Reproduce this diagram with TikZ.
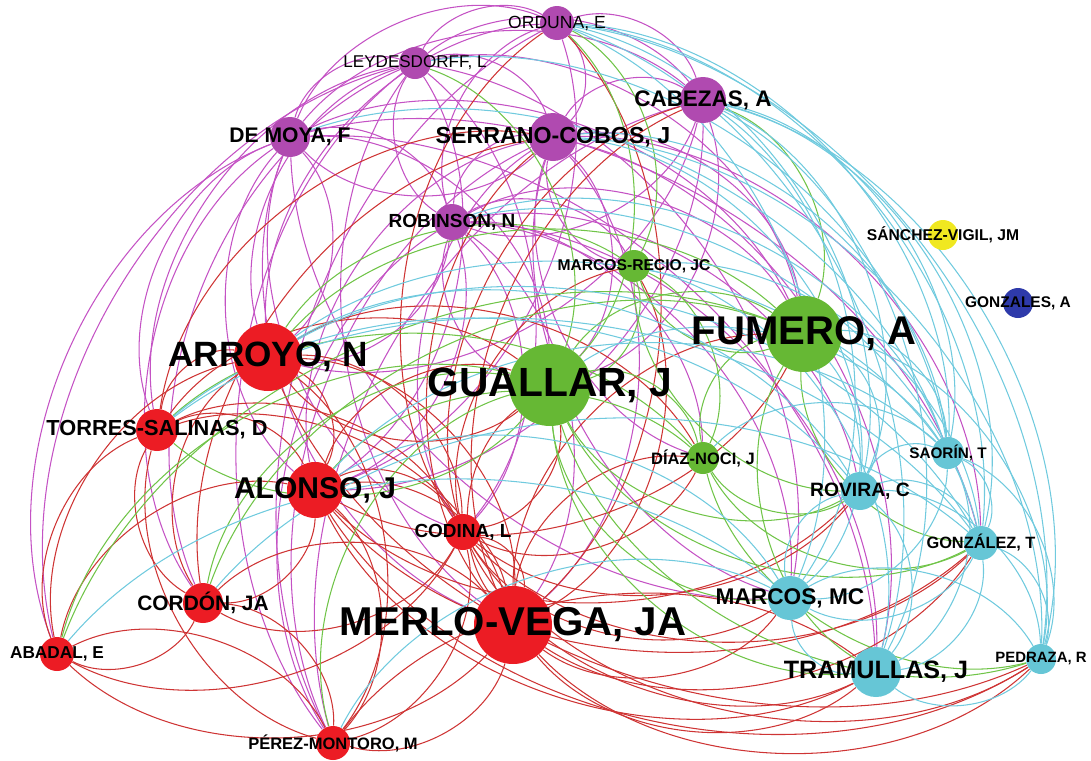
\documentclass[tikz,border=0pt]{standalone}
\usepackage{fontspec}
\setmainfont{Liberation Sans}
\usetikzlibrary{backgrounds}

\definecolor{pnode}{RGB}{176,74,176}
\definecolor{pline}{RGB}{196,82,196}
\definecolor{rnode}{RGB}{236,28,36}
\definecolor{rline}{RGB}{206,52,52}
\definecolor{gnode}{RGB}{102,184,52}
\definecolor{gline}{RGB}{112,196,72}
\definecolor{cnode}{RGB}{102,198,214}
\definecolor{cline}{RGB}{112,202,222}
\definecolor{ynode}{RGB}{240,232,32}
\definecolor{bnode}{RGB}{46,58,170}

\begin{document}
\begin{tikzpicture}[x=0.2mm,y=-0.2mm,
  au/.style={circle,inner sep=0pt,minimum size=#1*0.4mm},
  pn/.style={au=#1,fill=pnode},
  rn/.style={au=#1,fill=rnode},
  gn/.style={au=#1,fill=gnode},
  cn/.style={au=#1,fill=cnode},
  yn/.style={au=#1,fill=ynode},
  bn/.style={au=#1,fill=bnode},
  lb/.style={font=\bfseries\fontsize{#1}{#1}\selectfont,inner sep=0pt},
  lr/.style={font=\fontsize{#1}{#1}\selectfont,inner sep=0pt},
  lk/.style={line width=0.6pt,bend left=45,looseness=0.9},
  pe/.style={lk,draw=pline},
  re/.style={lk,draw=rline},
  ge/.style={lk,draw=gline},
  ce/.style={lk,draw=cline}]

\useasboundingbox (0,0) rectangle (1091,760);

%% ---------------- authors, purple group ----------------
\node[pn=17,label={[lr=10]center:{ORDUNA, E}}] (ord) at (557,23) {};
\node[pn=16,label={[lr=9.7]center:{LEYDESDORFF, L}}] (ley) at (415,63) {};
\node[pn=23,label={[lb=12.8]center:{CABEZAS, A}}] (cab) at (703,100) {};
\node[pn=20,label={[lb=12]center:{DE MOYA, F}}] (moy) at (290,137) {};
\node[pn=24,label={[lb=13.2]center:{SERRANO-COBOS, J}}] (ser) at (553,137) {};
\node[pn=18,label={[lb=10.8]center:{ROBINSON, N}}] (rob) at (452,222) {};

%% ---------------- green group ----------------
\node[gn=16,label={[lb=8.9]center:{MARCOS-RECIO, JC}}] (mre) at (634,266) {};
\node[gn=38,label={[lb=22.8]center:{FUMERO, A}}] (fum) at (804,334) {};
\node[gn=41,label={[lb=23.2]center:{GUALLAR, J}}] (gua) at (550,385) {};
\node[gn=16,label={[lb=9.4]center:{DÍAZ-NOCI, J}}] (dia) at (703,458) {};

%% ---------------- red group ----------------
\node[rn=34,label={[lb=20]center:{ARROYO, N}}] (arr) at (268,357) {};
\node[rn=21,label={[lb=12.4]center:{TORRES-SALINAS, D}}] (tor) at (157,430) {};
\node[rn=28,label={[lb=17.1]center:{ALONSO, J}}] (alo) at (315,490) {};
\node[rn=18,label={[lb=10.8]center:{CODINA, L}}] (cod) at (463,532) {};
\node[rn=20,label={[lb=11.9]center:{CORDÓN, JA}}] (cor) at (203,603) {};
\node[rn=17,label={[lb=9.8]center:{ABADAL, E}}] (aba) at (57,654) {};
\node[rn=39,label={[lb=22.9]center:{MERLO-VEGA, JA}}] (mer) at (513,625) {};
\node[rn=17,label={[lb=9.4]center:{PÉREZ-MONTORO, M}}] (per) at (333,743) {};

%% ---------------- cyan group ----------------
\node[cn=16,label={[lb=8.7]center:{SAORÍN, T}}] (sao) at (948,453) {};
\node[cn=19,label={[lb=11]center:{ROVIRA, C}}] (rov) at (860,491) {};
\node[cn=17,label={[lb=9.3]center:{GONZÁLEZ, T}}] (gnt) at (981,543) {};
\node[cn=22,label={[lb=12.9]center:{MARCOS, MC}}] (mmc) at (790,598) {};
\node[cn=25,label={[lb=14.3]center:{TRAMULLAS, J}}] (tra) at (876,672) {};
\node[cn=15,label={[lb=8.5]center:{PEDRAZA, R}}] (ped) at (1041,659) {};

%% ---------------- unlinked ----------------
\node[yn=15,label={[lb=8.9]center:{SÁNCHEZ-VIGIL, JM}}] (san) at (943,235) {};
\node[bn=15,label={[lb=8.8]center:{GONZALES, A}}] (gna) at (1018,303) {};

\begin{scope}[on background layer]
  %% purple links
  \foreach \a/\b in {moy/ley,ley/ord,ord/cab,moy/ord,ley/cab,moy/cab,ser/moy,
      ley/ser,ord/ser,ser/cab,rob/ord,rob/ser,cab/rob,moy/rob,rob/ley,
      aba/moy,aba/ley,tor/moy,tor/ley,arr/ley,arr/ord,moy/arr,alo/moy,ley/alo,
      rob/alo,alo/ser,ord/alo,cod/moy,rob/cod,ley/cod,cod/ser,per/ley,per/rob,
      per/ser,per/ord,per/cab,mer/moy,rob/mer,ser/mer,mer/ley,cor/moy,cor/ley,
      rob/arr,cab/arr,cab/alo,
      moy/gua,ser/gua,gua/rob,cab/gua,rob/mre,mre/ser,ser/fum,rob/fum,moy/fum,
      rob/dia,dia/ser,ley/fum,
      rob/tra,ser/tra,moy/tra,rob/mmc,mmc/ser,ley/mmc,moy/gnt,ser/gnt,rob/rov,
      mmc/moy}
    \draw[pe] (\a) to (\b);
  %% red links
  \foreach \a/\b in {tor/arr,aba/tor,arr/alo,arr/cod,cor/arr,aba/arr,arr/mer,
      arr/per,tor/alo,tor/cod,cor/tor,tor/mer,per/tor,alo/cod,alo/cor,aba/alo,
      alo/mer,alo/per,cod/cor,cod/aba,cod/mer,cod/per,cor/aba,cor/mer,cor/per,
      mer/aba,aba/per,mer/per,
      cod/ord,ord/mer,mer/ser,mer/cab,cod/cab,tor/ser,cor/ser,
      mer/gua,gua/cod,alo/gua,gua/arr,tor/gua,mer/dia,dia/cod,arr/dia,mer/fum,
      fum/alo,cod/mre,mre/mer,
      mmc/mer,ped/mer,tra/mer,gnt/mer,rov/alo,tra/alo,tra/cod,mmc/cod,ped/alo,
      ped/cod,gnt/alo,gnt/cod,rov/cod,per/tra,ped/arr}
    \draw[re] (\a) to (\b);
  %% green links
  \foreach \a/\b in {gua/fum,mre/gua,gua/dia,fum/mre,dia/fum,mre/dia,gua/tor,
      cor/gua,aba/gua,per/gua,rov/gua,mmc/gua,tra/gua,ped/gua,gnt/gua,
      gnt/fum,tra/fum,rov/dia,ped/dia,gnt/dia,cab/fum,ley/gua,ord/mre,ord/gua,
      arr/mre,arr/fum,tor/dia,aba/fum,cor/fum,alo/dia,rov/mre}
    \draw[ge] (\a) to (\b);
  %% cyan links
  \foreach \a/\b in {sao/ped,sao/gnt,gnt/ped,ped/tra,tra/mmc,rov/sao,rov/gnt,
      mmc/rov,rov/tra,rov/ped,sao/mmc,sao/tra,gnt/mmc,gnt/tra,mmc/ped,
      ord/ped,ord/gnt,ord/sao,ord/tra,cab/ped,cab/gnt,cab/sao,cab/tra,cab/rov,
      cab/mmc,ser/sao,ser/rov,ser/ped,ord/rov,ord/mmc,ley/sao,moy/sao,rob/sao,
      rob/gnt,
      fum/sao,fum/ped,gua/sao,mre/gnt,mre/tra,dia/sao,fum/rov,fum/mmc,
      arr/rov,arr/sao,tor/gnt,aba/mmc,cor/gnt,per/mmc,alo/mmc,alo/sao,tor/rov,
      arr/gnt}
    \draw[ce] (\a) to (\b);
\end{scope}

\end{tikzpicture}
\end{document}
